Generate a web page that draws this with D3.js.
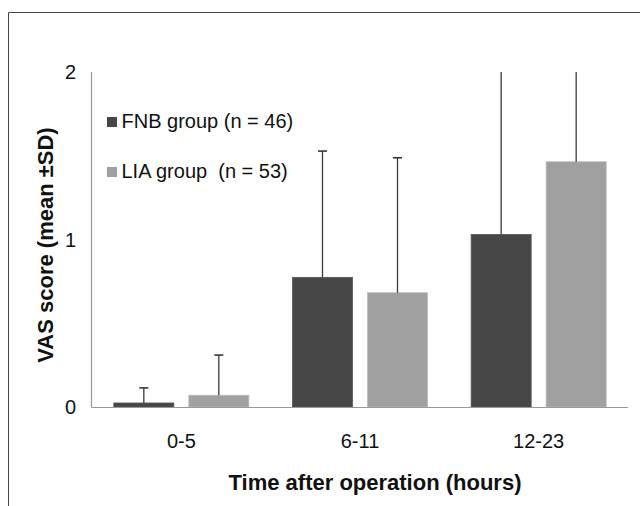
<!DOCTYPE html>
<html lang="en">
<head>
    <meta charset="UTF-8">
    <title>VAS score</title>
    <script src="https://d3js.org/d3.v7.min.js"></script>
    <style>
        body { margin: 0; background: #fff; }
        text { font-family: "Liberation Sans", Arial, sans-serif; }
    </style>
</head>
<body>
    <div id="chart"></div>
    <script>
        const categories = ["0-5", "6-11", "12-23"];
        const seriesNames = ["FNB group (n = 46)", "LIA group  (n = 53)"];
        const fnbMean = [0.024, 0.774, 1.03];
        const fnbSD = [0.09, 0.754, 1.2];
        const liaMean = [0.07, 0.682, 1.464];
        const liaSD = [0.24, 0.806, 1.1];
        const yTicks = [0, 1, 2];

        const width = 640, height = 506;
        const colors = ["#474747", "#a0a0a0"];

        const svg = d3.select("#chart").append("svg")
            .attr("width", width)
            .attr("height", height);

        // frame (cropped figure border)
        svg.append("path")
            .attr("d", "M8.5,506 V12.5 H640")
            .attr("fill", "none")
            .attr("stroke", "#444")
            .attr("stroke-width", 1);

        const x0 = d3.scaleBand().domain(categories).range([92, 628]);
        const x1 = d3.scaleBand().domain([0, 1]).range([0, x0.bandwidth()])
            .paddingInner(0.2).paddingOuter(0.291);
        const y = d3.scaleLinear().domain([0, 2]).range([407, 72]);

        const data = [];
        categories.forEach((c, i) => {
            data.push({ cat: c, s: 0, mean: fnbMean[i], sd: fnbSD[i] });
            data.push({ cat: c, s: 1, mean: liaMean[i], sd: liaSD[i] });
        });

        // bars
        svg.selectAll("rect.bar")
            .data(data)
            .enter()
            .append("rect")
            .attr("class", "bar")
            .attr("x", d => x0(d.cat) + x1(d.s))
            .attr("y", d => y(d.mean))
            .attr("width", x1.bandwidth())
            .attr("height", d => y(0) - y(d.mean))
            .attr("fill", d => colors[d.s])
            .attr("stroke", d => d.s === 1 ? "#b8b8b8" : "#555")
            .attr("stroke-width", 0.8);

        // error bars (clipped at axis max)
        const err = svg.selectAll("g.err")
            .data(data)
            .enter()
            .append("g")
            .attr("class", "err");

        err.append("line")
            .attr("x1", d => x0(d.cat) + x1(d.s) + x1.bandwidth() / 2)
            .attr("x2", d => x0(d.cat) + x1(d.s) + x1.bandwidth() / 2)
            .attr("y1", d => y(d.mean))
            .attr("y2", d => y(Math.min(2, d.mean + d.sd)))
            .attr("stroke", "#3a3a3a")
            .attr("stroke-width", 1.3);

        err.filter(d => d.mean + d.sd <= 2)
            .append("line")
            .attr("x1", d => x0(d.cat) + x1(d.s) + x1.bandwidth() / 2 - 4.5)
            .attr("x2", d => x0(d.cat) + x1(d.s) + x1.bandwidth() / 2 + 4.5)
            .attr("y1", d => y(d.mean + d.sd))
            .attr("y2", d => y(d.mean + d.sd))
            .attr("stroke", "#2a2a2a")
            .attr("stroke-width", 1.5);

        // axes
        svg.append("line")
            .attr("x1", 91.5).attr("x2", 91.5)
            .attr("y1", y(2)).attr("y2", y(0) + 0.5)
            .attr("stroke", "#999").attr("stroke-width", 1.2);
        svg.append("line")
            .attr("x1", 91.5).attr("x2", 628)
            .attr("y1", y(0) + 0.5).attr("y2", y(0) + 0.5)
            .attr("stroke", "#999").attr("stroke-width", 1.2);

        svg.selectAll("text.ytick")
            .data(yTicks)
            .enter()
            .append("text")
            .attr("class", "ytick")
            .attr("x", 76)
            .attr("y", d => y(d) + 7)
            .attr("text-anchor", "end")
            .style("font-size", "20px")
            .style("fill", "#111")
            .text(d => d);

        svg.selectAll("text.xtick")
            .data(categories)
            .enter()
            .append("text")
            .attr("class", "xtick")
            .attr("x", d => x0(d) + x0.bandwidth() / 2)
            .attr("y", 448)
            .attr("text-anchor", "middle")
            .style("font-size", "20px")
            .style("fill", "#111")
            .text(d => d);

        svg.append("text")
            .attr("x", 375)
            .attr("y", 490)
            .attr("text-anchor", "middle")
            .style("font-size", "22px")
            .style("font-weight", "bold")
            .style("fill", "#111")
            .text("Time after operation (hours)");

        svg.append("text")
            .attr("transform", "translate(53,245) rotate(-90)")
            .attr("text-anchor", "middle")
            .style("font-size", "22px")
            .style("font-weight", "bold")
            .style("fill", "#111")
            .text("VAS score (mean ±SD)");

        // legend
        const legend = svg.selectAll("g.legend")
            .data(seriesNames)
            .enter()
            .append("g")
            .attr("class", "legend")
            .attr("transform", (d, i) => `translate(107, ${117 + i * 50})`);

        legend.append("rect")
            .attr("width", 10).attr("height", 10)
            .attr("fill", (d, i) => colors[i]);

        legend.append("text")
            .attr("x", 14.5)
            .attr("y", 11)
            .style("font-size", "20px")
            .style("fill", "#111")
            .style("white-space", "pre")
            .attr("xml:space", "preserve")
            .text(d => d);
    </script>
</body>
</html>
